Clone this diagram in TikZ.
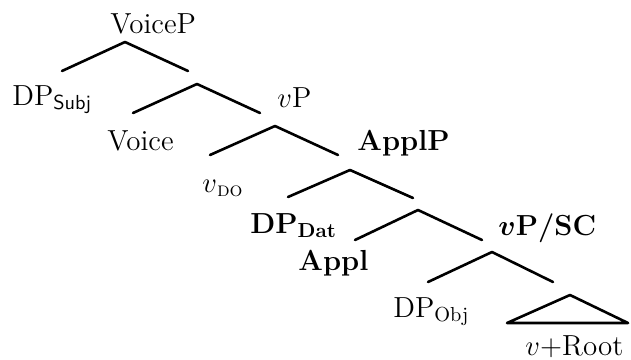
\documentclass[tikz,border=0pt]{standalone}
\usepackage{amsmath}
\usepackage{tikz}
\usetikzlibrary{positioning}

\begin{document}
\begin{tikzpicture}[x=0.5pt, y=-0.5pt,
                          label/.style={anchor=base west, inner sep=0pt, font=\fontsize{14.5}{17}\selectfont},
                          boldlabel/.style={label, font=\fontsize{14.5}{17}\selectfont\bfseries},
                          branch/.style={line width=1.3pt, line cap=round, line join=round},
                      ]
                      \useasboundingbox (0,0) rectangle (631,359);
                      %Nodes
                      \node[label]        (voiceP)  at (110,33)   {VoiceP};
                      \node[label]        (dpSubj)  at (12,105)   {DP\textsubscript{\sffamily Subj}};
                      \node[label]        (vP)      at (277,107)  {$v$P};
                      \node[label]        (voice)   at (107,150)  {Voice};
                      \node[boldlabel]    (applP)   at (357,150)  {ApplP};
                      \node[label]        (vDO)     at (202,192)  {$v$\textsubscript{\textsc{do}}};
                      \node[boldlabel]    (dpDat)   at (250,233)  {DP\textsubscript{Dat}};
                      \node[boldlabel]    (vPSC)    at (498,235)  {$\boldsymbol{v}$P/SC};
                      \node[boldlabel]    (appl)    at (298,270)  {Appl};
                      \node[label]        (dpObj)   at (393,317)  {DP\textsubscript{Obj}};
                      \node[label]        (vRoot)   at (525,355)  {$v$+Root};

                      %Branch points
                      \coordinate (top_1) at (125,42);  \coordinate (left_1) at (62,71);   \coordinate (right_1) at (188,71);
                      \coordinate (top_2) at (197,84);  \coordinate (left_2) at (133,113); \coordinate (right_2) at (260,113);
                      \coordinate (top_3) at (275,126); \coordinate (left_3) at (210,155); \coordinate (right_3) at (338,155);
                      \coordinate (top_4) at (350,170); \coordinate (left_4) at (288,197); \coordinate (right_4) at (413,198);
                      \coordinate (top_5) at (418,210); \coordinate (left_5) at (355,240); \coordinate (right_5) at (482,240);
                      \coordinate (top_6) at (492,252); \coordinate (left_6) at (428,282); \coordinate (right_6) at (553,282);
                      \coordinate (tri_top) at (570,295); \coordinate (tri_left) at (507,323); \coordinate (tri_right) at (628,323);

                      %Lines
                      \draw[branch] (left_1) -- (top_1) -- (right_1);
                      \draw[branch] (left_2) -- (top_2) -- (right_2);
                      \draw[branch] (left_3) -- (top_3) -- (right_3);
                      \draw[branch] (left_4) -- (top_4) -- (right_4);
                      \draw[branch] (left_5) -- (top_5) -- (right_5);
                      \draw[branch] (left_6) -- (top_6) -- (right_6);
                      \draw[branch] (tri_top) -- (tri_left) -- (tri_right) -- cycle;
                  \end{tikzpicture}
\end{document}
